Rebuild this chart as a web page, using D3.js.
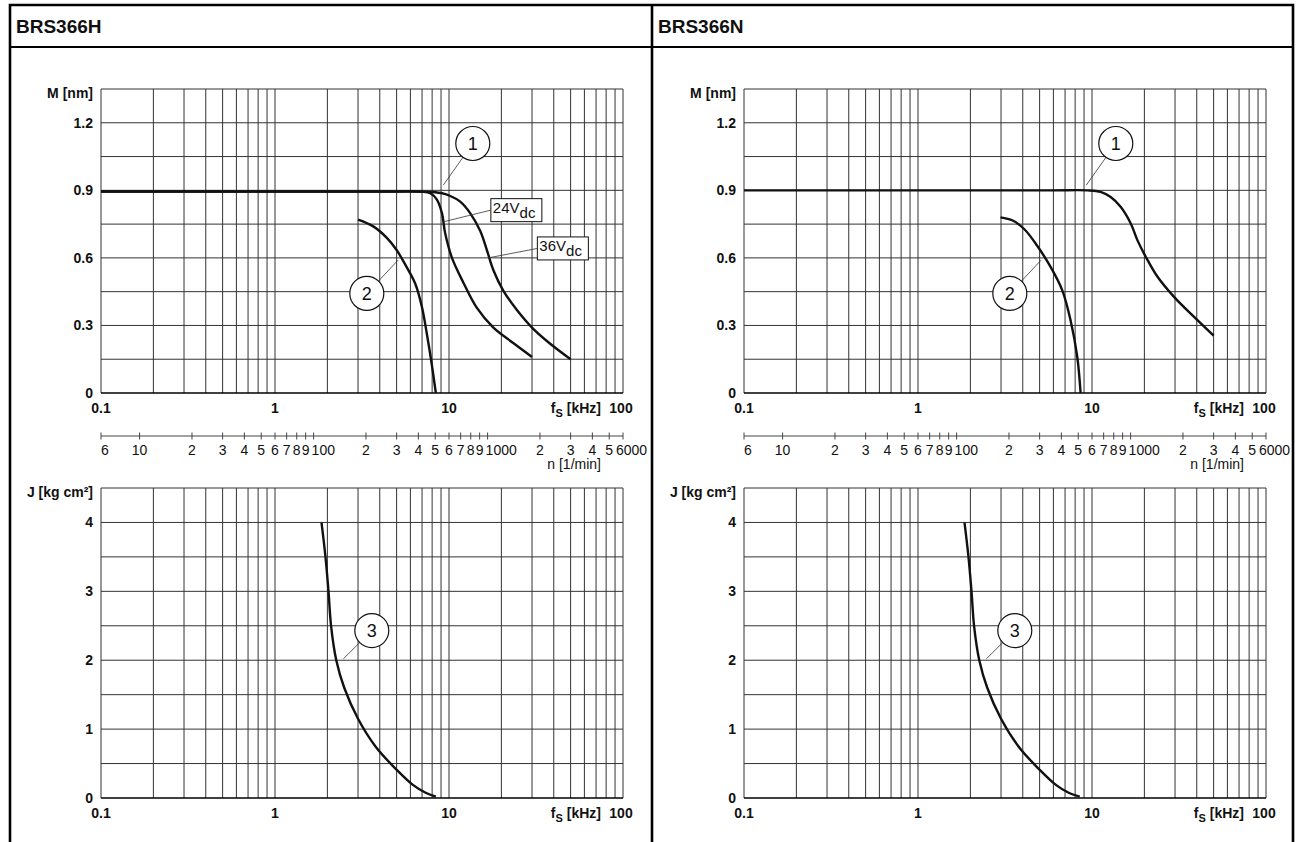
<!DOCTYPE html>
<html>
<head>
<meta charset="utf-8">
<script src="https://cdn.jsdelivr.net/npm/d3@7"></script>
<style>
  body { margin: 0; background: #fff; }
  svg { display: block; }
  text { font-family: "Liberation Sans", Arial, Helvetica, sans-serif; fill: #111; }
</style>
</head>
<body>
<div id="chart"></div>
<script>

// products (one column each)
var products = ["BRS366H", "BRS366N"];

// axis ticks
var fTicks = [0.1, 1, 10, 100];
var mTicks = [0, 0.3, 0.6, 0.9, 1.2];
var jTicks = [0, 1, 2, 3, 4];
var nTicks = [6, 10, 20, 30, 40, 50, 60, 70, 80, 90, 100, 200, 300, 400, 500, 600, 700, 800, 900,
              1000, 2000, 3000, 4000, 5000, 6000];
var nLabels = ["6", "10", "2", "3", "4", "5", "6", "7", "8", "9", "100", "2", "3", "4", "5", "6", "7", "8", "9",
               "1000", "2", "3", "4", "5", "6000"];

// torque curves [fs kHz, M Nm]
var torqueH24 = [[0.1, 0.895], [1, 0.895], [5, 0.895], [7, 0.894], [7.8, 0.887], [8.5, 0.86], [9.1, 0.8], [9.5, 0.71],
                 [10.4, 0.6], [12.1, 0.49], [14.4, 0.38], [18, 0.29], [23.4, 0.222], [30, 0.16]];
var torqueH36 = [[0.1, 0.895], [1, 0.895], [5, 0.895], [7.5, 0.894], [9, 0.888], [10.1, 0.876], [11.6, 0.85],
                 [13.2, 0.8], [15.1, 0.72], [16.5, 0.635], [18, 0.545], [20.5, 0.455], [24.5, 0.37],
                 [30.5, 0.285], [38, 0.22], [50, 0.15]];
var torqueN   = [[0.1, 0.9], [1, 0.9], [6, 0.9], [9.4, 0.9], [11.2, 0.893], [12.8, 0.87], [14.6, 0.827],
                 [16.7, 0.753], [18.2, 0.68], [20.4, 0.604], [23.8, 0.516], [29.6, 0.427], [38.6, 0.338],
                 [50, 0.255]];
// pull-in torque
var pullinH = [[3.0, 0.77], [3.67, 0.74], [4.38, 0.69], [5.0, 0.635], [5.7, 0.56], [6.4, 0.485], [7.0, 0.38],
               [7.45, 0.265], [7.95, 0.13], [8.4, 0]];
var pullinN = [[2.98, 0.78], [3.5, 0.766], [4.1, 0.726], [4.84, 0.654], [5.78, 0.56], [6.75, 0.456],
               [7.53, 0.323], [8.23, 0.16], [8.6, 0]];
// load inertia [fs kHz, J kg cm2]
var inertiaH = [[1.85, 4.0], [1.95, 3.5], [2.03, 3.0], [2.1, 2.5], [2.25, 2.0], [2.5, 1.6], [3.0, 1.15],
                [3.8, 0.74], [5.0, 0.41], [6.2, 0.19], [7.3, 0.08], [8.4, 0.02]];
var inertiaN = [[1.85, 4.0], [1.95, 3.5], [2.03, 3.0], [2.1, 2.5], [2.25, 2.0], [2.5, 1.6], [3.0, 1.15],
                [3.8, 0.74], [5.0, 0.41], [6.2, 0.19], [7.3, 0.08], [8.5, 0.02]];

// callouts: circle at (f, v), leader to (tf, tv)
var torqueNotes = [{label: "1", f: 13.7, v: 1.108, tf: 9.27, tv: 0.923},
                   {label: "2", f: 3.37, v: 0.442, tf: 5.1, tv: 0.59}];
var inertiaNotes = [{label: "3", f: 3.6, v: 2.43, tf: 2.47, tv: 2.02}];
var voltageNotes = [{label: "24V", sub: "dc", f: 17.4, v: 0.812, tf: 9.27, tv: 0.76},
                    {label: "36V", sub: "dc", f: 32.2, v: 0.642, tf: 16.8, tv: 0.6}];

var panels = [
  {name: products[0], torque: [torqueH24, torqueH36], pullin: pullinH, inertia: inertiaH, voltages: voltageNotes},
  {name: products[1], torque: [torqueN], pullin: pullinN, inertia: inertiaN, voltages: []}
];

// layout
var W = 1302, H = 842;
var frame = {left: 10, right: 1293, top: 5, header: 47, mid: 652};
var panelStep = 643;
var plotLeft = 101, plotWidth = 522;
var topPlot = {top: 89, bottom: 393};
var botPlot = {top: 488, bottom: 798};
var nAxisY = 436;

var svg = d3.select("#chart").append("svg")
    .attr("width", W)
    .attr("height", H);

function gridChart(g, x, y, vmax, vstep, vticks, title, fmt) {
  var x0 = x.range()[0], x1 = x.range()[1];
  var y0 = y.range()[0], y1 = y.range()[1];

  // vertical grid 1..9 per decade
  var vlines = [];
  for (var d = -1; d <= 1; d++) {
    for (var k = 1; k <= 9; k++) vlines.push(k * Math.pow(10, d));
  }
  vlines.push(100);

  g.append("g").selectAll("line")
    .data(vlines).enter().append("line")
    .attr("x1", function(d) { return x(d); })
    .attr("x2", function(d) { return x(d); })
    .attr("y1", y0).attr("y2", y1)
    .attr("stroke", "#333")
    .attr("stroke-width", 1);

  var hlines = d3.range(0, vmax + 1e-9, vstep);
  g.append("g").selectAll("line")
    .data(hlines).enter().append("line")
    .attr("x1", x0).attr("x2", x1)
    .attr("y1", function(d) { return y(d); })
    .attr("y2", function(d) { return y(d); })
    .attr("stroke", function(d) { return d === 0 ? "#000" : "#333"; })
    .attr("stroke-width", function(d) { return d === 0 ? 1.4 : 1; });

  // y labels
  g.append("g").selectAll("text")
    .data(vticks).enter().append("text")
    .attr("x", x0 - 8)
    .attr("y", function(d) { return y(d); })
    .attr("dy", "0.35em")
    .attr("text-anchor", "end")
    .attr("font-size", "14px")
    .attr("font-weight", "bold")
    .text(fmt);

  g.append("text")
    .attr("x", x0 - 8)
    .attr("y", y1 + 9)
    .attr("text-anchor", "end")
    .attr("font-size", "14px")
    .attr("font-weight", "bold")
    .text(title);

  // x labels
  g.append("g").selectAll("text")
    .data(fTicks).enter().append("text")
    .attr("x", function(d) { return x(d); })
    .attr("y", y0 + 20)
    .attr("text-anchor", "middle")
    .attr("dx", function(d, i) { return i === fTicks.length - 1 ? -2 : 0; })
    .attr("font-size", "14px")
    .attr("font-weight", "bold")
    .text(function(d) { return d; });

  var ft = g.append("text")
    .attr("x", x1 - 22)
    .attr("y", y0 + 20)
    .attr("text-anchor", "end")
    .attr("font-size", "14px")
    .attr("font-weight", "bold");
  ft.append("tspan").text("f");
  ft.append("tspan").attr("font-size", "11px").attr("dy", 4).text("S");
  ft.append("tspan").attr("dy", -4).text(" [kHz]");
}

function circleNotes(g, x, y, notes) {
  var r = 17;
  var ng = g.append("g").selectAll("g")
    .data(notes).enter().append("g");

  ng.append("line")
    .attr("x1", function(d) {
      var cx = x(d.f), cy = y(d.v), tx = x(d.tf), ty = y(d.tv);
      var len = Math.hypot(tx - cx, ty - cy);
      return cx + (tx - cx) / len * r;
    })
    .attr("y1", function(d) {
      var cx = x(d.f), cy = y(d.v), tx = x(d.tf), ty = y(d.tv);
      var len = Math.hypot(tx - cx, ty - cy);
      return cy + (ty - cy) / len * r;
    })
    .attr("x2", function(d) { return x(d.tf); })
    .attr("y2", function(d) { return y(d.tv); })
    .attr("stroke", "#333")
    .attr("stroke-width", 0.8);

  ng.append("circle")
    .attr("cx", function(d) { return x(d.f); })
    .attr("cy", function(d) { return y(d.v); })
    .attr("r", r)
    .attr("fill", "#fff")
    .attr("stroke", "#111")
    .attr("stroke-width", 1.2);

  ng.append("text")
    .attr("x", function(d) { return x(d.f); })
    .attr("y", function(d) { return y(d.v); })
    .attr("dy", "0.36em")
    .attr("text-anchor", "middle")
    .attr("font-size", "18px")
    .text(function(d) { return d.label; });
}

function voltageBoxes(g, x, y, notes) {
  var bw = 51, bh = 23;
  var vg = g.append("g").selectAll("g")
    .data(notes).enter().append("g");

  vg.append("line")
    .attr("x1", function(d) { return x(d.f); })
    .attr("y1", function(d) { return y(d.v); })
    .attr("x2", function(d) { return x(d.tf); })
    .attr("y2", function(d) { return y(d.tv); })
    .attr("stroke", "#333")
    .attr("stroke-width", 0.8);

  vg.append("rect")
    .attr("x", function(d) { return x(d.f); })
    .attr("y", function(d) { return y(d.v) - bh / 2; })
    .attr("width", bw)
    .attr("height", bh)
    .attr("fill", "#fff")
    .attr("stroke", "#111")
    .attr("stroke-width", 1);

  var t = vg.append("text")
    .attr("x", function(d) { return x(d.f) + 2; })
    .attr("y", function(d) { return y(d.v) + 3; })
    .attr("font-size", "15px");
  t.append("tspan").text(function(d) { return d.label; });
  t.append("tspan").attr("dy", 5).text(function(d) { return d.sub; });
}

panels.forEach(function(p, i) {
  var left = plotLeft + i * panelStep;
  var x = d3.scaleLog().domain([0.1, 100]).range([left, left + plotWidth]);
  var yM = d3.scaleLinear().domain([0, 1.35]).range([topPlot.bottom, topPlot.top]);
  var yJ = d3.scaleLinear().domain([0, 4.5]).range([botPlot.bottom, botPlot.top]);
  var nx = d3.scaleLog().domain([6, 6000]).range(x.range());

  var g = svg.append("g").attr("class", "panel");

  // header
  g.append("text")
    .attr("x", (i === 0 ? frame.left : frame.mid) + 6)
    .attr("y", 33)
    .attr("font-size", "19px")
    .attr("font-weight", "bold")
    .text(p.name);

  // torque chart
  var gt = g.append("g");
  gridChart(gt, x, yM, 1.35, 0.15, mTicks, "M [nm]", function(d) { return d === 0 ? "0" : d3.format(".1f")(d); });

  var lineM = d3.line()
    .curve(d3.curveCatmullRom.alpha(0.5))
    .x(function(d) { return x(d[0]); })
    .y(function(d) { return yM(d[1]); });

  gt.append("g").selectAll("path")
    .data(p.torque.concat([p.pullin])).enter().append("path")
    .attr("d", lineM)
    .attr("fill", "none")
    .attr("stroke", "#111")
    .attr("stroke-width", 2.4);

  voltageBoxes(gt, x, yM, p.voltages);
  circleNotes(gt, x, yM, torqueNotes);

  // speed axis n [1/min]
  var gn = g.append("g");
  gn.append("line")
    .attr("x1", nx(6)).attr("x2", nx(6000))
    .attr("y1", nAxisY).attr("y2", nAxisY)
    .attr("stroke", "#444");
  gn.selectAll(".ntick")
    .data(nTicks).enter().append("line")
    .attr("x1", function(d) { return nx(d); })
    .attr("x2", function(d) { return nx(d); })
    .attr("y1", nAxisY - 3.5).attr("y2", nAxisY + 3.5)
    .attr("stroke", "#444");
  gn.selectAll(".nlab")
    .data(nTicks).enter().append("text")
    .attr("x", function(d, j) {
      if (j === 0) return nx(d);
      if (j === nTicks.length - 1) return nx(d) - 7;
      return nLabels[j].length > 2 ? nx(d) - 2 : nx(d);
    })
    .attr("y", nAxisY + 19)
    .attr("text-anchor", function(d, j) {
      return (j === 0 || nLabels[j].length > 2) ? "start" : "middle";
    })
    .attr("font-size", "14px")
    .attr("fill", "#333")
    .text(function(d, j) { return nLabels[j]; });
  gn.append("text")
    .attr("x", nx(6000) - 22)
    .attr("y", nAxisY + 33)
    .attr("text-anchor", "end")
    .attr("font-size", "14px")
    .attr("fill", "#333")
    .text("n [1/min]");

  // inertia chart
  var gj = g.append("g");
  gridChart(gj, x, yJ, 4.5, 0.5, jTicks, "J [kg cm\u00b2]", function(d) { return d; });

  gj.append("path")
    .datum(p.inertia)
    .attr("d", d3.line().curve(d3.curveCatmullRom.alpha(0.5))
      .x(function(d) { return x(d[0]); })
      .y(function(d) { return yJ(d[1]); }))
    .attr("fill", "none")
    .attr("stroke", "#111")
    .attr("stroke-width", 2.4);

  circleNotes(gj, x, yJ, inertiaNotes);
});

// table frame
var fr = svg.append("g")
  .attr("stroke", "#000")
  .attr("stroke-width", 2.6)
  .attr("fill", "none");
fr.append("path")
  .attr("d", "M" + frame.left + "," + H + "V" + frame.top + "H" + frame.right + "V" + H);
fr.append("line")
  .attr("x1", frame.mid).attr("x2", frame.mid)
  .attr("y1", frame.top).attr("y2", H);
fr.append("line")
  .attr("x1", frame.left).attr("x2", frame.right)
  .attr("y1", frame.header).attr("y2", frame.header)
  .attr("stroke-width", 2);

</script>
</body>
</html>
